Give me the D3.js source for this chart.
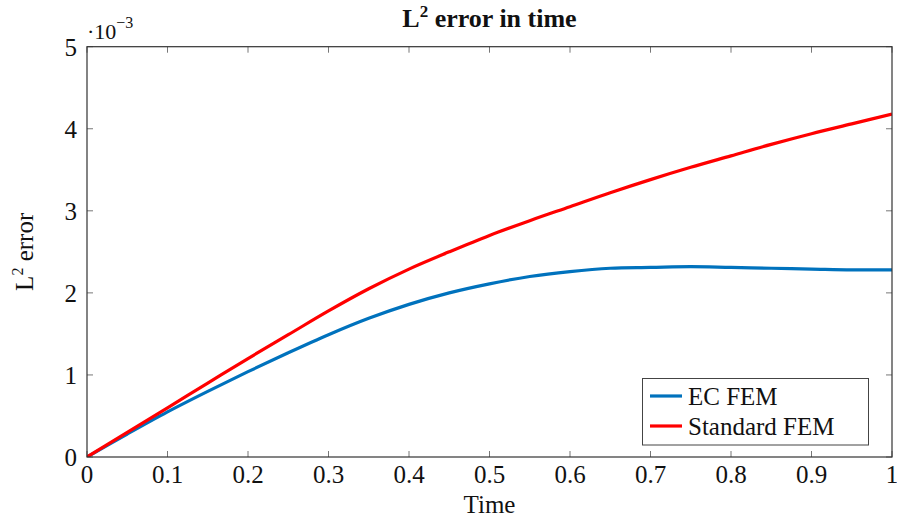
<!DOCTYPE html>
<html>
<head>
<meta charset="utf-8">
<script src="https://cdn.jsdelivr.net/npm/d3@7"></script>
<style>
  body { margin: 0; background: #fff; }
  svg text { font-family: "Liberation Serif", "DejaVu Serif", serif; fill: #111; }
</style>
</head>
<body>
<div id="chart"></div>
<script>
var time = [0, 0.05, 0.1, 0.15, 0.2, 0.25, 0.3, 0.35, 0.4, 0.45, 0.5, 0.55, 0.6, 0.65, 0.7, 0.75, 0.8, 0.85, 0.9, 0.95, 1];
// values in units of 1e-3
var ecFem = [0, 0.28, 0.55, 0.80, 1.04, 1.27, 1.49, 1.69, 1.86, 2.00, 2.11, 2.20, 2.26, 2.30, 2.31, 2.32, 2.31, 2.30, 2.29, 2.28, 2.28];
var stdFem = [0, 0.30, 0.60, 0.90, 1.20, 1.49, 1.78, 2.05, 2.29, 2.50, 2.70, 2.88, 3.05, 3.22, 3.38, 3.53, 3.67, 3.81, 3.94, 4.06, 4.18];
var xTicks = [0, 0.1, 0.2, 0.3, 0.4, 0.5, 0.6, 0.7, 0.8, 0.9, 1];
var yTicks = [0, 1, 2, 3, 4, 5];
var seriesNames = ['EC FEM', 'Standard FEM'];
var seriesColors = ['#0072BD', '#FF0000'];

(function() {
  var width = 897, height = 521;
  var pLeft = 87, pRight = 892, pTop = 46.7, pBottom = 457;

  var svg = d3.select('#chart').append('svg')
    .attr('width', width)
    .attr('height', height);

  var x = d3.scaleLinear().domain([0, 1]).range([pLeft, pRight]);
  var y = d3.scaleLinear().domain([0, 5]).range([pBottom, pTop]);

  // ticks on all four sides, pointing inward
  var tickLen = 6;
  var ticks = svg.append('g').attr('stroke', '#777').attr('stroke-width', 1);
  xTicks.forEach(function(t) {
    ticks.append('line').attr('x1', x(t)).attr('x2', x(t)).attr('y1', pBottom).attr('y2', pBottom - tickLen);
    ticks.append('line').attr('x1', x(t)).attr('x2', x(t)).attr('y1', pTop).attr('y2', pTop + tickLen);
  });
  yTicks.forEach(function(v) {
    ticks.append('line').attr('x1', pLeft).attr('x2', pLeft + tickLen).attr('y1', y(v)).attr('y2', y(v));
    ticks.append('line').attr('x1', pRight).attr('x2', pRight - tickLen).attr('y1', y(v)).attr('y2', y(v));
  });

  // curves
  var series = [ecFem, stdFem];
  var line = d3.line()
    .x(function(d, i) { return x(time[i]); })
    .y(function(d) { return y(d); })
    .curve(d3.curveCatmullRom.alpha(0.5));

  svg.append('defs').append('clipPath').attr('id', 'clip')
    .append('rect').attr('x', pLeft).attr('y', pTop).attr('width', pRight - pLeft).attr('height', pBottom - pTop);

  svg.append('g').attr('clip-path', 'url(#clip)').selectAll('path').data(series).enter().append('path')
    .attr('d', line)
    .attr('fill', 'none')
    .attr('stroke', function(d, i) { return seriesColors[i]; })
    .attr('stroke-width', 3.2);

  // frame
  svg.append('rect')
    .attr('x', pLeft).attr('y', pTop)
    .attr('width', pRight - pLeft).attr('height', pBottom - pTop)
    .attr('fill', 'none').attr('stroke', '#333').attr('stroke-width', 1.2);

  // tick labels
  svg.selectAll('.xlab').data(xTicks).enter().append('text')
    .attr('x', function(d) { return x(d); })
    .attr('y', 483)
    .attr('text-anchor', 'middle')
    .attr('font-size', 25)
    .text(function(d) { return d3.format('')(d); });

  svg.selectAll('.ylab').data(yTicks).enter().append('text')
    .attr('x', 77)
    .attr('y', function(d) { return y(d) + 9; })
    .attr('text-anchor', 'end')
    .attr('font-size', 25)
    .text(function(d) { return d; });

  // scale label ·10^-3
  var scaleLab = svg.append('text').attr('x', 87).attr('y', 39).attr('font-size', 22);
  scaleLab.append('tspan').text('·10');
  scaleLab.append('tspan').attr('font-size', 16).attr('dy', -11).text('−3');

  // title
  var title = svg.append('text')
    .attr('x', (pLeft + pRight) / 2).attr('y', 27)
    .attr('text-anchor', 'middle')
    .attr('font-size', 26).attr('font-weight', 'bold');
  title.append('tspan').text('L');
  title.append('tspan').attr('font-size', 17).attr('dy', -10).text('2');
  title.append('tspan').attr('dy', 10).text(' error in time');

  // axis labels
  svg.append('text')
    .attr('x', (pLeft + pRight) / 2).attr('y', 513)
    .attr('text-anchor', 'middle')
    .attr('font-size', 25)
    .text('Time');

  var yLab = svg.append('text')
    .attr('transform', 'translate(33,' + ((pTop + pBottom) / 2) + ') rotate(-90)')
    .attr('text-anchor', 'middle')
    .attr('font-size', 25);
  yLab.append('tspan').text('L');
  yLab.append('tspan').attr('font-size', 16).attr('dy', -10).text('2');
  yLab.append('tspan').attr('dy', 10).text(' error');

  // legend
  var legend = svg.append('g');
  legend.append('rect')
    .attr('x', 642.5).attr('y', 378.5)
    .attr('width', 226).attr('height', 66.5)
    .attr('fill', '#fff').attr('stroke', '#444').attr('stroke-width', 1);
  seriesNames.forEach(function(name, i) {
    var ly = 396 + i * 30;
    legend.append('line')
      .attr('x1', 650).attr('x2', 682)
      .attr('y1', ly).attr('y2', ly)
      .attr('stroke', seriesColors[i]).attr('stroke-width', 3.2);
    legend.append('text')
      .attr('x', 688).attr('y', ly + 8.5)
      .attr('font-size', 25)
      .text(name);
  });
})();
</script>
</body>
</html>
